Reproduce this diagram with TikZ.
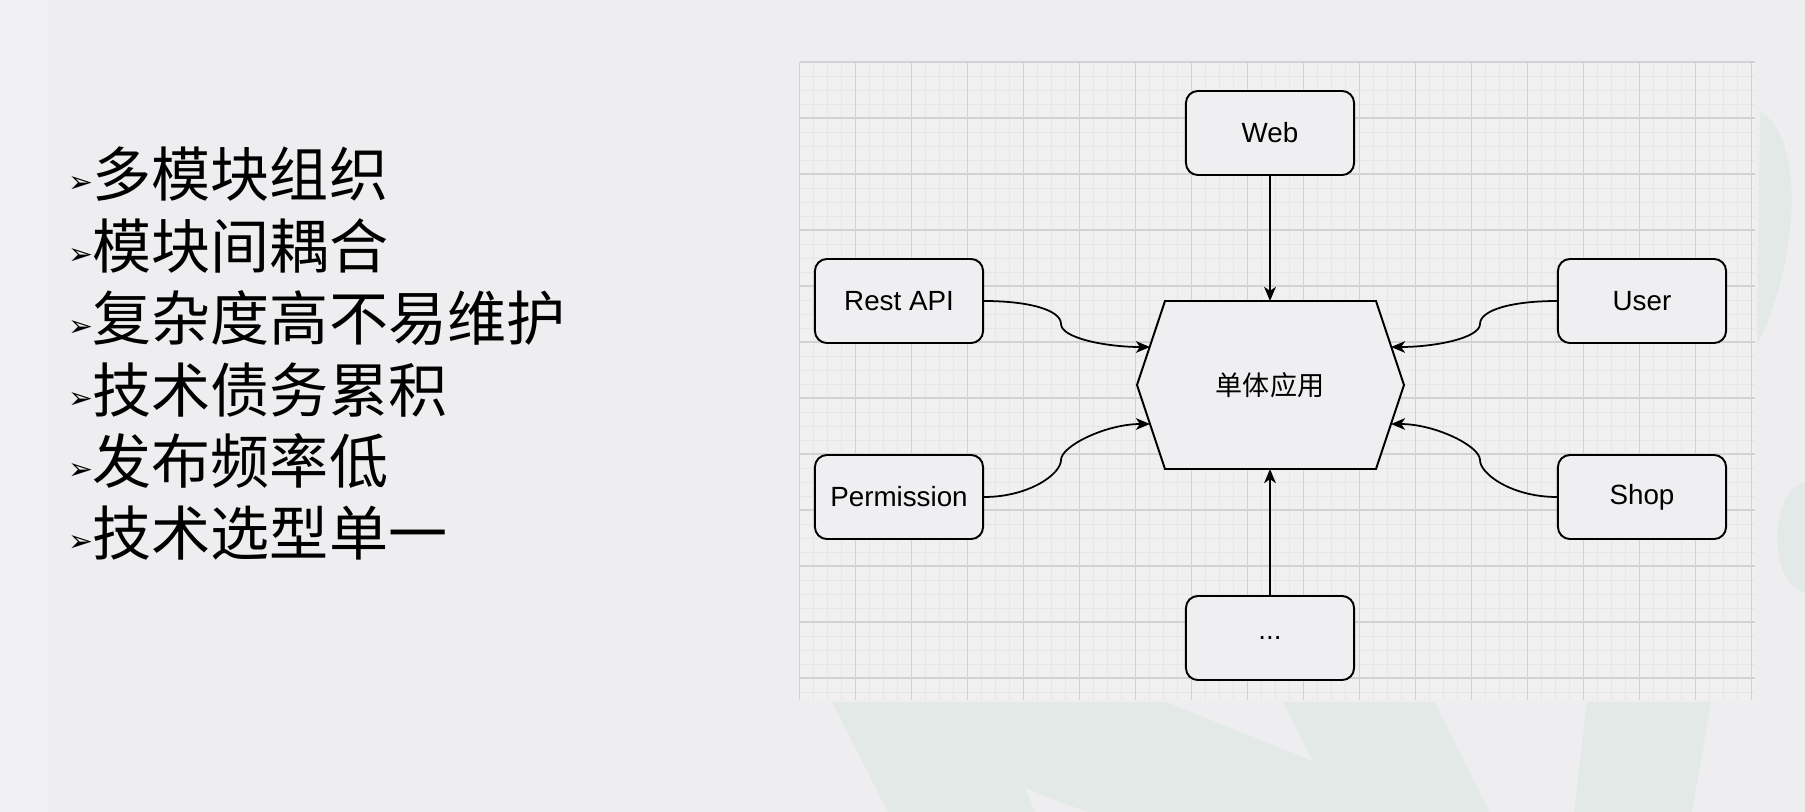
\documentclass[tikz,border=0pt]{standalone}
\usepackage{fontspec}
\usepackage{xcolor}
\usepackage{tikz}
\usetikzlibrary{arrows.meta, calc}
\setmainfont{Liberation Sans}
\newfontfamily\cjk{Noto Sans CJK SC}
\newfontfamily\dingfont{DejaVu Sans}
\definecolor{pagebg}{RGB}{238,238,240}
\definecolor{leftband}{RGB}{241,241,243}
\definecolor{markcol}{RGB}{226,233,230}
\definecolor{gridbg}{RGB}{240,240,241}
\definecolor{gridminor}{RGB}{230,230,232}
\definecolor{gridmajor}{RGB}{210,210,213}
\definecolor{boxfill}{RGB}{239,239,241}

\begin{document}
\begin{tikzpicture}[x=0.01cm, y=-0.01cm]
	\tikzstyle{module}=[rectangle, rounded corners=3.4pt, draw=black, line width=0.55pt, fill=boxfill, minimum width=1.68cm, minimum height=0.84cm, inner sep=0pt, font=\fontsize{7.9pt}{9pt}\selectfont]
	\tikzstyle{listitem}=[anchor=west, inner sep=0pt, font=\cjk\fontsize{16.8pt}{17pt}\selectfont]
	\tikzstyle{itemmark}=[inner sep=0pt, font=\dingfont\fontsize{8.5pt}{9pt}\selectfont]
	\tikzstyle{feed}=[draw=black, line width=0.5pt, -{Stealth[length=4pt, width=3.3pt, inset=1.1pt]}]

	%% page
	\fill[pagebg] (0,0) rectangle (1805,812);
	\useasboundingbox (0,0) rectangle (1805,812);
	\fill[leftband] (0,0) rectangle (48,812);

	%% watermark
	\fill[markcol] (832,702) -- (1166,702) -- (1313,761) -- (1283,702) -- (1434,702) -- (1489,812) -- (1087,812) -- (1025,788) -- (1035,812) -- (888,812) -- cycle;
	\fill[markcol] (1587,702) -- (1711,702) -- (1692,812) -- (1574,812) -- cycle;
	\fill[markcol] (1760,112) .. controls (1805,135) and (1800,260) .. (1757,345) -- cycle;
	\fill[markcol] (1805,482) .. controls (1768,492) and (1768,585) .. (1805,592) -- cycle;

	%% grid
	\fill[gridbg] (799.5,62) rectangle (1755,700);
	\foreach \i in {0,...,68}
		\draw[gridminor, line width=0.25pt] ({799.5+14*\i},62) -- ({799.5+14*\i},700);
	\foreach \j in {0,...,45}
		\draw[gridminor, line width=0.25pt] (799.5,{62+14*\j}) -- (1755,{62+14*\j});
	\foreach \i in {0,...,17}
		\draw[gridmajor, line width=0.3pt] ({799.5+56*\i},62) -- ({799.5+56*\i},700);
	\foreach \j in {0,...,11}
		\draw[gridmajor, line width=0.3pt] (799.5,{62+56*\j}) -- (1755,{62+56*\j});

	%% list
	\node (mark1) at (81,185) [itemmark]{➢};
	\node (mark2) at (81,257) [itemmark]{➢};
	\node (mark3) at (81,329) [itemmark]{➢};
	\node (mark4) at (81,401) [itemmark]{➢};
	\node (mark5) at (81,472) [itemmark]{➢};
	\node (mark6) at (81,544) [itemmark]{➢};

	\node (item1) at (92,174) [listitem]{多模块组织};
	\node (item2) at (92,246) [listitem]{模块间耦合};
	\node (item3) at (92,318) [listitem]{复杂度高不易维护};
	\node (item4) at (92,390) [listitem]{技术债务累积};
	\node (item5) at (92,461) [listitem]{发布频率低};
	\node (item6) at (92,533) [listitem]{技术选型单一};

	%% monolith
	\draw[line width=0.55pt, fill=boxfill] (1165,301) -- (1376,301) -- (1404,385) -- (1376,469) -- (1165,469) -- (1137,385) -- cycle;
	\node (app) at (1270,385) [font=\cjk\fontsize{7.7pt}{8pt}\selectfont]{单体应用};
	\coordinate (appN) at (1270,301);
	\coordinate (appS) at (1270,469);
	\coordinate (appWN) at (1150,347);
	\coordinate (appWS) at (1150,424);
	\coordinate (appEN) at (1391,347);
	\coordinate (appES) at (1391,424);

	\node (web) at (1270,133) [module]{Web};
	\node (rest) at (899,301) [module]{Rest API};
	\node (user) at (1642,301) [module]{User};
	\node (perm) at (899,497) [module]{Permission};
	\node (shop) at (1642,497) [module]{Shop};
	\node (more) at (1270,638) [module]{...};

	\coordinate (restbend) at (1061,324);
	\coordinate (permbend) at (1061,460);
	\coordinate (userbend) at (1480,324);
	\coordinate (shopbend) at (1480,460);

	\draw[feed] (web) -- (appN);
	\draw[feed] (more) -- (appS);
	\draw[feed] (rest.east) .. controls +(45,0) and +(0,-14) .. (restbend) .. controls +(0,14) and +(-44,0) .. (appWN);
	\draw[feed] (perm.east) .. controls +(45,0) and +(0,14) .. (permbend) .. controls +(0,-14) and +(-44,0) .. (appWS);
	\draw[feed] (user.west) .. controls +(-45,0) and +(0,-14) .. (userbend) .. controls +(0,14) and +(44,0) .. (appEN);
	\draw[feed] (shop.west) .. controls +(-45,0) and +(0,14) .. (shopbend) .. controls +(0,-14) and +(44,0) .. (appES);
\end{tikzpicture}
\end{document}
